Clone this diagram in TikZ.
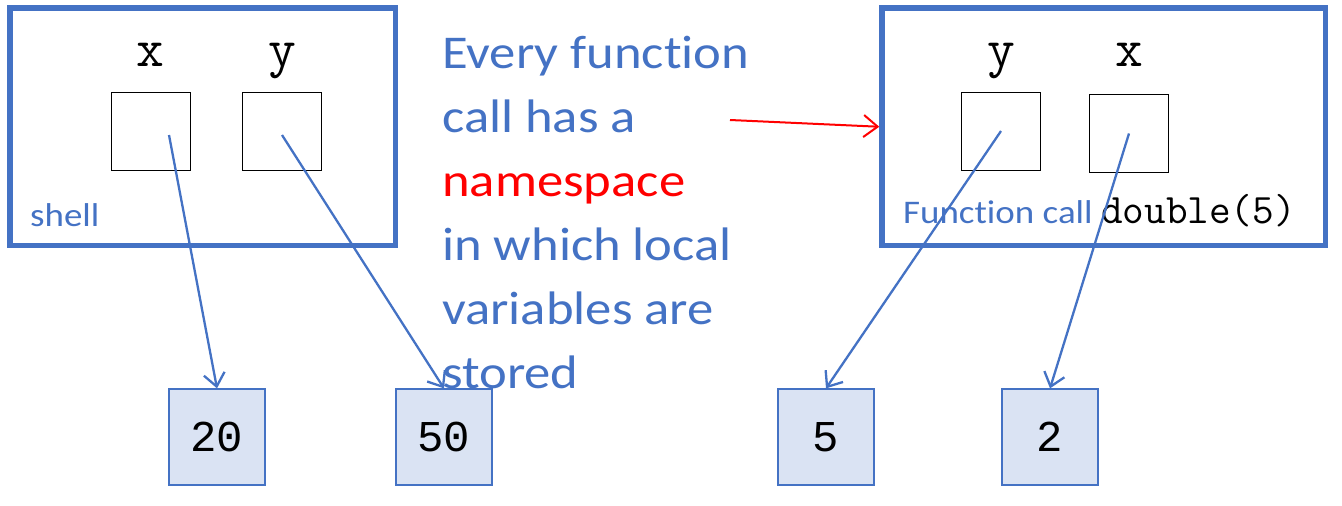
\documentclass[tikz,border=0pt]{standalone}
\usepackage{fontspec}
\setmainfont[FakeStretch=1.12, Ligatures=NoCommon]{Carlito}
\newfontfamily\numfont{Liberation Mono}
\usepackage{tikz}
\usetikzlibrary{arrows.meta}
\usetikzlibrary{positioning}
\definecolor{frameblue}{HTML}{4472C4}
\definecolor{cellfill}{HTML}{DAE3F3}

\begin{document}
\begin{tikzpicture}[x=1pt, y=-1pt,
    frame/.style={draw=frameblue, line width=5.5pt, minimum width=385.5pt, minimum height=237.5pt, inner sep=0pt},
    varbox/.style={draw, line width=1pt, minimum width=79pt, minimum height=78pt, inner sep=0pt},
    varname/.style={anchor=base, font=\ttfamily\fontsize{54}{54}\selectfont},
    valbox/.style={draw=frameblue, fill=cellfill, line width=1.3pt, minimum size=96pt, inner sep=0pt, font=\numfont\fontsize{44}{44}\selectfont},
    ptr/.style={frameblue, line width=2.3pt, -{Straight Barb[length=13pt, width=21pt, line width=2.3pt]}},
    tag/.style={anchor=base west, text=frameblue, inner sep=0pt, font=\fontsize{33}{33}\selectfont}]
      \useasboundingbox (0,0) rectangle (1342,506);

      \node[frame] (shell) at (202.75,126.75) {};
      \node[frame, minimum width=443.5pt] (fcall) at (1103.75,126.75) {};

      \foreach \nm/\lab/\xx/\yy in {sx/x/150.5/131, sy/y/282/131, fy/y/1001/131, fx/x/1129/133.5}{
        \node[varbox] (\nm) at (\xx,\yy) {};
        \node[varname] (\nm-lab) at (\xx,66) {\lab};
      }

      \node[tag] (shell-tag) at (30,226) {shell};
      \node[tag] (fcall-tag) at (903,223) {Function call {\ttfamily\fontsize{42}{42}\selectfont\color{black}double(5)}};

      \foreach \v/\xx in {20/217, 50/444, 5/826, 2/1050}
        \node[valbox] (v\v) at (\xx,437) {\v};

      \coordinate (sxp) at (169,135);
      \coordinate (syp) at (282,135);
      \draw[ptr] (sxp) -- (v20.north);
      \draw[ptr] (syp) -- (v50.north);
      \draw[ptr] (fy.center) -- (v5.north);
      \draw[ptr] (fx.center) -- (v2.north);

      \node[anchor=base west, align=left, inner sep=0pt, text=frameblue, font=\fontsize{47}{64}\selectfont] (note) at (442,388)
        {Every function\\call has a\\\textcolor{red}{namespace}\\in which local\\variables are\\stored};

      \coordinate (arrstart) at (730,120);
      \draw[red, line width=2pt, -{Straight Barb[length=14pt, width=22pt, line width=2pt]}] (arrstart) -- (fcall.west);
    \end{tikzpicture}
\end{document}
